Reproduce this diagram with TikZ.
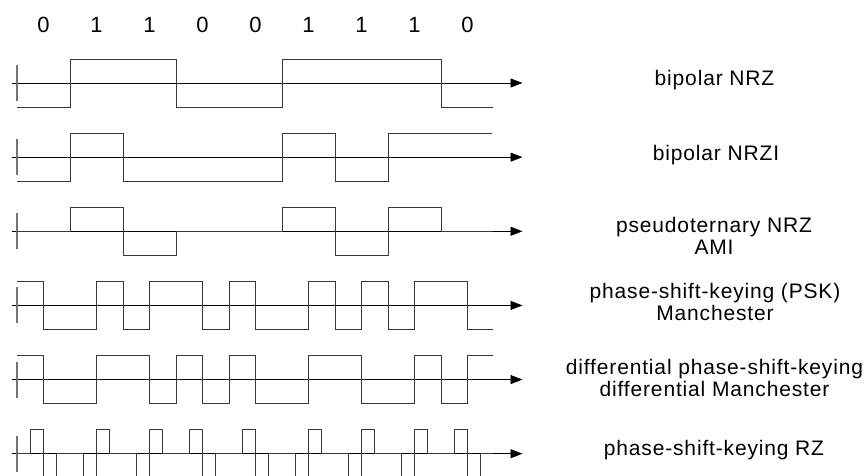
\documentclass[tikz,border=0pt]{standalone}
\usepackage{fontspec}
\setmainfont{Liberation Sans}
\usetikzlibrary{arrows.meta}
\begin{document}
\begin{tikzpicture}[x=1pt,y=-1pt,
  axisline/.style={line width=0.9pt, -{Triangle[length=12pt,width=9pt]}},
  wave/.style={line width=1pt, black!78, line join=miter},
  tickmark/.style={line width=1.1pt, black!55},
  bitlabel/.style={font=\fontsize{22}{22}\selectfont, inner sep=0pt},
  codename/.style={font=\fontsize{21}{22}\selectfont\addfontfeature{LetterSpace=4}, align=center, inner sep=0pt}]
\useasboundingbox (0,0) rectangle (866,475);
\clip (0,0) rectangle (866,475);

% bit sequence above the waveforms
\foreach \b [count=\i from 0] in {0,1,1,0,0,1,1,1,0}
  \node[bitlabel] (bit\i) at (43.5+53*\i, 25) {\b};

% one row per line code: axis, start mark, waveform, name
\foreach \r in {1,...,6} {
  \pgfmathsetmacro{\yy}{83+74.14*(\r-1)}
  \coordinate (ax\r s) at (12,\yy);
  \coordinate (ax\r e) at (522.5,\yy);
  \coordinate (tk\r a) at (17,\yy-18);
  \coordinate (tk\r b) at (17,\yy+18);
  \draw[axisline] (ax\r s) -- (ax\r e);
  \draw[tickmark] (tk\r a) -- (tk\r b);
}

% bipolar NRZ
\begin{scope}[shift={(0,83)}]
  \draw[wave] (17,24) -| (70,-24) -| (176,24) -| (282,-24) -| (441,24) -- (493,24);
\end{scope}

% bipolar NRZI
\begin{scope}[shift={(0,157.14)}]
  \draw[wave] (17,24) -| (70,-24) -| (123,24) -| (282,-24) -| (335,24) -| (388,-24) -- (492,-24);
\end{scope}

% pseudoternary NRZ (AMI)
\begin{scope}[shift={(0,231.28)}]
  \draw[wave] (17,0) -| (70,-24) -| (123,24) -| (176,0) -| (282,-24) -| (335,24) -| (388,-24) -| (441,0) -- (493,0);
\end{scope}

% Manchester
\begin{scope}[shift={(0,305.42)}]
  \draw[wave] (17,-24) -| (43.5,24) -| (96.5,-24) -| (123,24) -| (149.5,-24) -| (202.5,24) -| (229,-24)
    -| (255.5,24) -| (308.5,-24) -| (335,24) -| (361.5,-24) -| (388,24) -| (414.5,-24) -| (467.5,24) -- (493,24);
\end{scope}

% differential Manchester
\begin{scope}[shift={(0,379.56)}]
  \draw[wave] (17,-24) -| (43.5,24) -| (96.5,-24) -| (149.5,24) -| (176,-24) -| (202.5,24) -| (229,-24)
    -| (255.5,24) -| (308.5,-24) -| (361.5,24) -| (414.5,-24) -| (441,24) -| (467.5,-24) -- (493,-24);
\end{scope}

% phase-shift-keying RZ
\begin{scope}[shift={(0,453.7)}]
  \draw[wave] (17,0) -| (30.25,-24) -| (43.5,24) -| (56.75,0) -| (83.25,24) -| (96.5,-24) -| (109.75,0)
    -| (136.25,24) -| (149.5,-24) -| (162.75,0) -| (189.25,-24) -| (202.5,24) -| (215.75,0)
    -| (242.25,-24) -| (255.5,24) -| (268.75,0) -| (295.25,24) -| (308.5,-24) -| (321.75,0)
    -| (348.25,24) -| (361.5,-24) -| (374.75,0) -| (401.25,24) -| (414.5,-24) -| (427.75,0)
    -| (454.25,-24) -| (467.5,24) -| (480.75,0) -- (493,0);
\end{scope}

% code names
\node[codename] (l1) at (714.5,80) {bipolar NRZ};
\node[codename] (l2) at (716,155) {bipolar NRZI};
\node[codename] (l3) at (714,235.5) {pseudoternary NRZ\\AMI};
\node[codename] (l4) at (715,302) {phase-shift-keying (PSK)\\Manchester};
\node[codename] (l5) at (714.5,378) {differential phase-shift-keying\\differential Manchester};
\node[codename] (l6) at (714,450) {phase-shift-keying RZ};
\end{tikzpicture}
\end{document}
